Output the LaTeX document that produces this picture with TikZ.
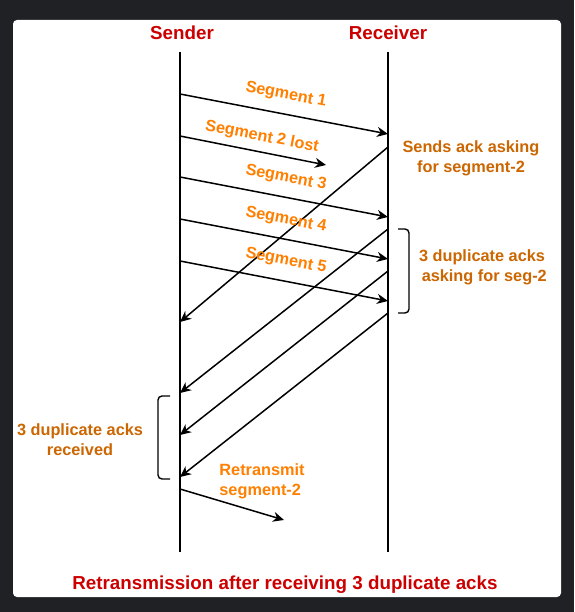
\documentclass[tikz,border=0pt]{standalone}
\usepackage{fontspec}
\setmainfont{Liberation Sans}
\usetikzlibrary{arrows.meta}
\definecolor{bgdark}{HTML}{202124}
\definecolor{titlered}{HTML}{CC0000}
\definecolor{segorange}{HTML}{FF8000}
\definecolor{sideorange}{HTML}{CC6600}
\tikzset{
  lifeline/.style={line width=1.5pt,black},
  msg/.style={line width=1.5pt,black,-{Stealth[length=11pt,width=10pt,inset=3.5pt]}},
  brace/.style={line width=1.4pt,black,rounded corners=4pt},
  titletext/.style={font=\fontsize{18.8}{21}\selectfont\bfseries,text=titlered,inner sep=0pt},
  seglabel/.style={font=\fontsize{16.2}{19}\selectfont\bfseries,text=segorange,inner sep=0pt,rotate=-10.9},
  sidelabel/.style={font=\fontsize{16.3}{20}\selectfont\bfseries,text=sideorange,inner sep=0pt,align=center},
}
\begin{document}
\begin{tikzpicture}[x=1pt,y=-1pt]
\fill[bgdark] (0,0) rectangle (574,612);
\useasboundingbox (0,0) rectangle (574,612);
\fill[white,rounded corners=4pt] (13,20) rectangle (561,597);

% titles
\node[titletext] (sender) at (182,33) {Sender};
\node[titletext] (receiver) at (388,33) {Receiver};

% lifelines
\coordinate (stop) at (180,52);
\coordinate (sbot) at (180,552);
\coordinate (rtop) at (388,52);
\coordinate (rbot) at (388,552);
\draw[lifeline] (stop) -- (sbot);
\draw[lifeline] (rtop) -- (rbot);

% segment send points
\coordinate (s1) at (180,94);   \coordinate (r1) at (388,134);
\coordinate (s2) at (180,136);  \coordinate (l2) at (326,165);
\coordinate (s3) at (180,177);  \coordinate (r3) at (388,217);
\coordinate (s4) at (180,219);  \coordinate (r4) at (388,259);
\coordinate (s5) at (180,261);  \coordinate (r5) at (388,301);

\draw[msg] (s1) -- (r1);
\draw[msg] (s2) -- (l2);
\draw[msg] (s3) -- (r3);
\draw[msg] (s4) -- (r4);
\draw[msg] (s5) -- (r5);

% acks
\coordinate (a1) at (388,147);  \coordinate (b1) at (180,322);
\coordinate (a2) at (388,229);  \coordinate (b2) at (180,393);
\coordinate (a3) at (388,271);  \coordinate (b3) at (180,435);
\coordinate (a4) at (388,313);  \coordinate (b4) at (180,477);
\draw[msg] (a1) -- (b1);
\draw[msg] (a2) -- (b2);
\draw[msg] (a3) -- (b3);
\draw[msg] (a4) -- (b4);

% retransmit
\coordinate (rs) at (180,489);  \coordinate (re) at (284,520);
\draw[msg] (rs) -- (re);

% segment labels
\node[seglabel] (lab1) at (286,95) {Segment 1};
\node[seglabel] (lab2) at (262,137) {Segment 2 lost};
\node[seglabel] (lab3) at (286,178) {Segment 3};
\node[seglabel] (lab4) at (286,220) {Segment 4};
\node[seglabel] (lab5) at (286,261) {Segment 5};

% side labels
\node[sidelabel] (sends) at (471,158) {Sends ack asking\\for segment-2};
\node[sidelabel] (dupr) at (482,267) {3 duplicate acks\\\ asking for seg-2};
\node[sidelabel] (dupl) at (80,440) {3 duplicate acks\\received};
\node[font=\fontsize{16.3}{20}\selectfont\bfseries,text=segorange,inner sep=0pt,align=left] (retx) at (262,481) {Retransmit\\segment-2};

% brackets
\draw[brace] (398,229) -- (409,229) -- (409,313) -- (398,313);
\draw[brace] (170,396) -- (158,396) -- (158,479) -- (170,479);

% caption
\node[titletext] (caption) at (285,585) {Retransmission after receiving 3 duplicate acks};
\end{tikzpicture}
\end{document}
